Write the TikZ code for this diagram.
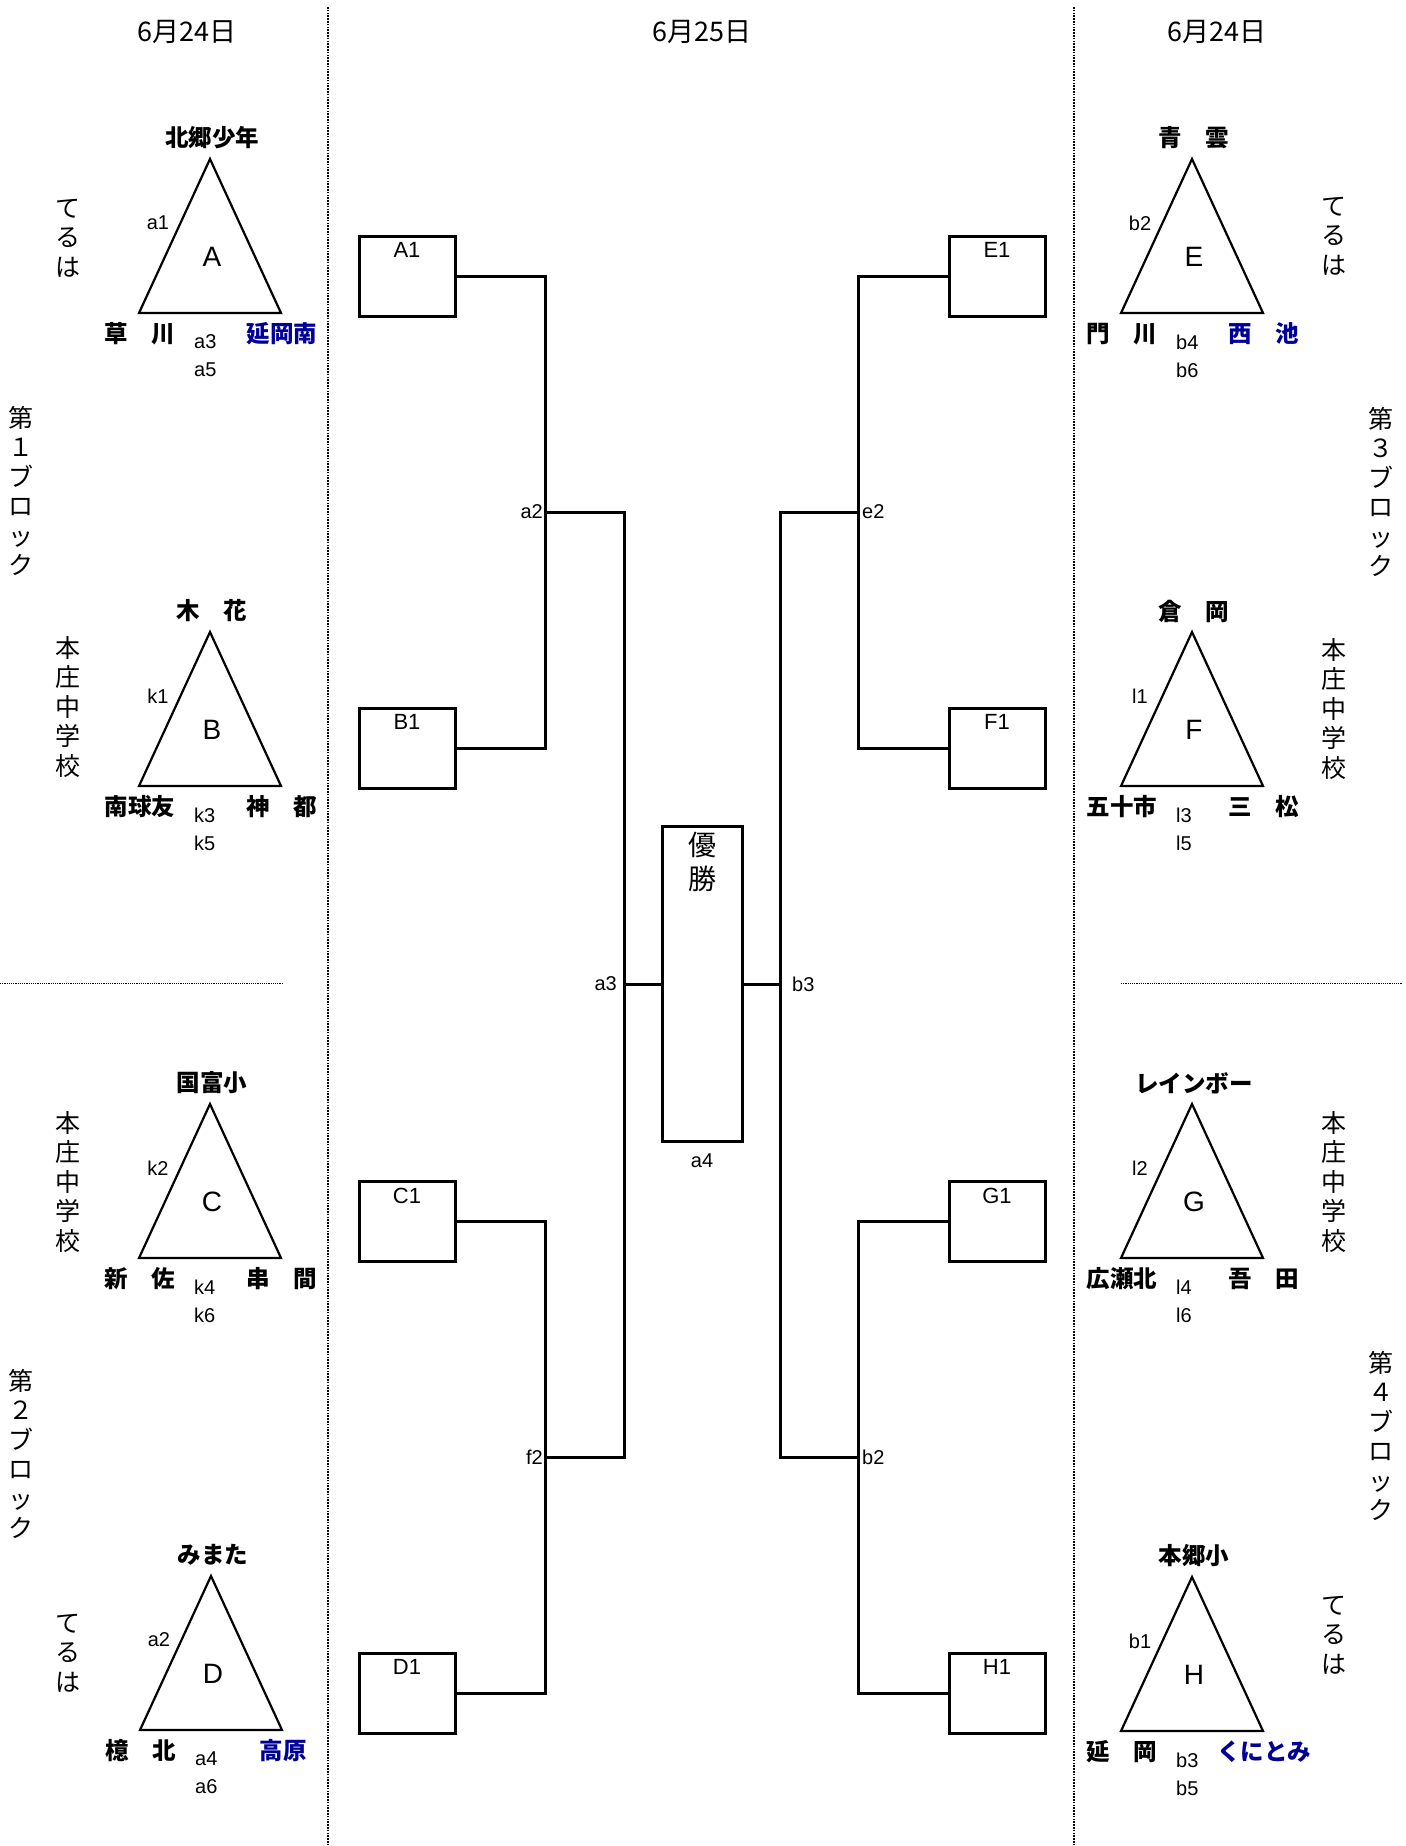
\documentclass[tikz,border=0pt]{standalone}
\usepackage{fontspec}
\setmainfont{Liberation Sans}
\newfontfamily\jpfont{Noto Sans CJK JP}
\usetikzlibrary{positioning}
\definecolor{SchoolBlue}{RGB}{0,0,153}
\tikzset{%
  divider/.style={line width=1.8pt, dash pattern=on 1.6pt off 1.2pt},
  thindivider/.style={line width=1pt, dash pattern=on 1.2pt off 1pt},
  day/.style={font=\jpfont\fontsize{27}{30}\selectfont},
  host/.style={font=\jpfont\fontsize{25}{29.5}\selectfont, align=center, inner sep=0pt},
  pool/.style={line width=2.2pt, line join=miter},
  poolname/.style={font=\fontsize{28}{32}\selectfont},
  team/.style={font=\jpfont\bfseries\fontsize{23.5}{26}\selectfont, inner sep=1pt},
  game/.style={font=\fontsize{20}{22}\selectfont, inner sep=1pt},
  seed/.style={draw, line width=3pt, minimum width=96pt, minimum height=80pt,
    inner sep=0pt,
    label={[anchor=north, inner sep=0pt, yshift=-8pt, font=\fontsize{22}{24}\selectfont]north:#1}},
  final/.style={draw, line width=3pt, minimum width=80pt, minimum height=315pt, inner sep=0pt},
  finaltext/.style={font=\jpfont\fontsize{28}{34}\selectfont, align=center, inner sep=0pt},
  bracket/.style={line width=3pt},
}
% one round-robin pool: name, x, base y, top, left, right, side, bottom 1, bottom 2
\newcommand{\pool}[9]{%
  \coordinate (#1top) at (#2,#3-154);
  \coordinate (#1left) at (#2-71,#3);
  \coordinate (#1right) at (#2+71,#3);
  \draw[pool] (#1top) -- (#1left) -- (#1right) -- cycle;
  \node[poolname] (#1) at (#2+2,#3-56) {#1};
  \node[team] (#1n) at (#2+2,#3-175) {#4};
  \node[team] (#1w) at (#2-70,#3+21) {#5};
  \node[team] (#1e) at (#2+72,#3+21) {#6};
  \node[game] (#1s) at (#2-52,#3-90) {#7};
  \node[game, anchor=west] (#1b) at (#2-17,#3+29) {#8};
  \node[game, anchor=west] (#1c) at (#2-17,#3+57) {#9};
}

\begin{document}
\begin{tikzpicture}[x=1pt, y=-1pt]
    \useasboundingbox (0,0) rectangle (1405,1846);

    % dividers
    \draw[divider] (328,7) -- (328,1846);
    \draw[divider] (1074,7) -- (1074,1846);
    \draw[thindivider] (0,983) -- (283,983);
    \draw[thindivider] (1121,983) -- (1402,983);

    \node[day] (DAYL) at (187,32) {6月24日};
    \node[day] (DAYC) at (702,32) {6月25日};
    \node[day] (DAYR) at (1217,32) {6月24日};

    \pool{A}{210}{313}{北郷少年}{草　川}{\color{SchoolBlue}延岡南}{a1}{a3}{a5}
    \pool{B}{210}{786}{木　花}{南球友}{神　都}{k1}{k3}{k5}
    \pool{C}{210}{1258}{国富小}{新　佐}{串　間}{k2}{k4}{k6}
    \pool{D}{211}{1730}{みまた}{檍　北}{\color{SchoolBlue}高原}{a2}{a4}{a6}
    \pool{E}{1192}{313}{青　雲}{門　川}{\color{SchoolBlue}西　池}{b2}{b4}{b6}
    \pool{F}{1192}{786}{倉　岡}{五十市}{三　松}{l1}{l3}{l5}
    \pool{G}{1192}{1258}{レインボー}{広瀬北}{吾　田}{l2}{l4}{l6}
    \pool{H}{1192}{1731}{本郷小}{延　岡}{\color{SchoolBlue}くにとみ}{b1}{b3}{b5}

    \node[host] (HOSTA) at (68,238) {て\\る\\は};
    \node[host] (HOSTB) at (68,707) {本\\庄\\中\\学\\校};
    \node[host] (HOSTC) at (68,1182) {本\\庄\\中\\学\\校};
    \node[host] (HOSTD) at (68,1653) {て\\る\\は};
    \node[host] (HOSTE) at (1334,236) {て\\る\\は};
    \node[host] (HOSTF) at (1334,709) {本\\庄\\中\\学\\校};
    \node[host] (HOSTG) at (1334,1182) {本\\庄\\中\\学\\校};
    \node[host] (HOSTH) at (1334,1635) {て\\る\\は};

    \node[host] (BLOCK1) at (21,491) {第\\１\\ブ\\ロ\\ッ\\ク};
    \node[host] (BLOCK2) at (21,1454) {第\\２\\ブ\\ロ\\ッ\\ク};
    \node[host] (BLOCK3) at (1381,492) {第\\３\\ブ\\ロ\\ッ\\ク};
    \node[host] (BLOCK4) at (1381,1436) {第\\４\\ブ\\ロ\\ッ\\ク};

    \node[seed=A1] (A1) at (407,276) {};
    \node[seed=B1] (B1) at (407,748) {};
    \node[seed=C1] (C1) at (407,1221) {};
    \node[seed=D1] (D1) at (407,1693) {};
    \node[seed=E1] (E1) at (997,276) {};
    \node[seed=F1] (F1) at (997,748) {};
    \node[seed=G1] (G1) at (997,1221) {};
    \node[seed=H1] (H1) at (997,1693) {};

    \node[final] (CUP) at (702,984) {};
    \node[finaltext, below=7pt of CUP.north] (CUPTEXT) {優\\勝};
    \node[game, below=10pt of CUP] (CUPGAME) {a4};

    \coordinate (a2) at (545,512);
    \coordinate (f2) at (545,1457);
    \coordinate (a3) at (624,984);
    \coordinate (e2) at (858,512);
    \coordinate (b2) at (858,1457);
    \coordinate (b3) at (780,984);

    \draw[bracket] (A1) -| (a2) |- (B1);
    \draw[bracket] (C1) -| (f2) |- (D1);
    \draw[bracket] (a2) -| (a3) |- (f2);
    \draw[bracket] (a3) -- (CUP);
    \draw[bracket] (E1) -| (e2) |- (F1);
    \draw[bracket] (G1) -| (b2) |- (H1);
    \draw[bracket] (e2) -| (b3) |- (b2);
    \draw[bracket] (b3) -- (CUP);

    \node[game, left=1pt of a2] (A2LBL) {a2};
    \node[game, left=1pt of f2] (F2LBL) {f2};
    \node[game, left=6pt of a3] (A3LBL) {a3};
    \node[game, right=3pt of e2] (E2LBL) {e2};
    \node[game, right=3pt of b2] (B2LBL) {b2};
    \node[game, right=11pt of b3] (B3LBL) {b3};
\end{tikzpicture}
\end{document}
